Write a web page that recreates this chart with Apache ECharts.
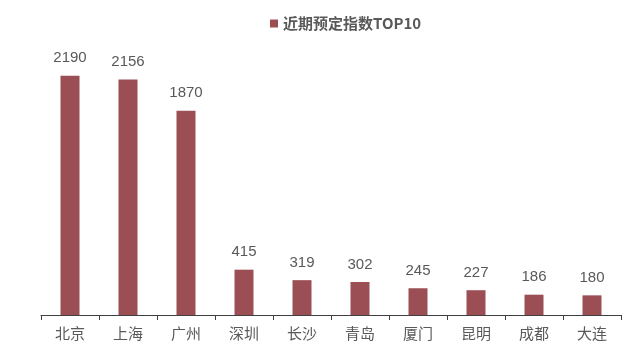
<!DOCTYPE html>
<html>
<head>
<meta charset="utf-8">
<script src="https://cdn.jsdelivr.net/npm/echarts@6/dist/echarts.min.js"></script>
<style>
html,body{margin:0;padding:0;background:#fff;}
#chart{width:625px;height:352px;}
</style>
</head>
<body>
<div id="chart"></div>
<script>
// Top-10 cities by recent booking index
const cities = ['北京', '上海', '广州', '深圳', '长沙', '青岛', '厦门', '昆明', '成都', '大连'];
const bookingIndex = [2190, 2156, 1870, 415, 319, 302, 245, 227, 186, 180];
const seriesName = '近期预定指数TOP10';

const chart = echarts.init(document.getElementById('chart'));
chart.setOption({
  animation: false,
  backgroundColor: '#ffffff',
  legend: {
    data: [seriesName],
    top: 11,
    left: 265,
    itemWidth: 8,
    itemHeight: 8,
    itemGap: 4,
    icon: 'rect',
    textStyle: {
      color: '#595959',
      fontSize: 15,
      fontWeight: 'bold',
      fontFamily: '"Noto Sans CJK SC", "Liberation Sans", sans-serif'
    }
  },
  grid: { left: 41, right: 4, top: 42, bottom: 37 },
  xAxis: {
    type: 'category',
    data: cities,
    axisLine: { lineStyle: { color: '#404040', width: 1 } },
    axisTick: { show: true, length: 5, lineStyle: { color: '#404040' } },
    axisLabel: {
      color: '#595959',
      fontSize: 15,
      margin: 11,
      fontFamily: '"Noto Sans CJK SC", sans-serif'
    }
  },
  yAxis: {
    type: 'value',
    min: 0,
    max: 2500,
    show: false,
    splitLine: { show: false }
  },
  series: [{
    name: seriesName,
    type: 'bar',
    data: bookingIndex,
    barWidth: 19,
    itemStyle: { color: '#9b4f55' },
    label: {
      show: true,
      position: 'top',
      distance: 10,
      color: '#595959',
      fontSize: 15,
      fontFamily: '"Liberation Sans", Arial, sans-serif'
    }
  }]
});
</script>
</body>
</html>
